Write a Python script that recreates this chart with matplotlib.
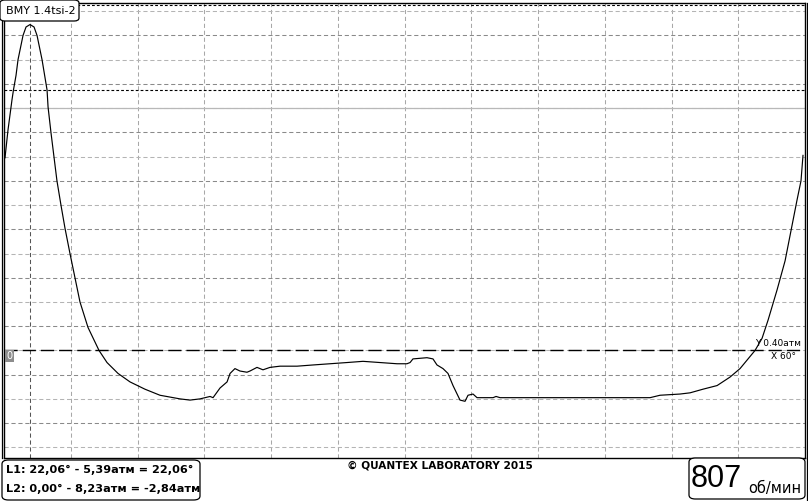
import matplotlib
matplotlib.use("Agg")
import matplotlib.pyplot as plt
from matplotlib.patches import FancyBboxPatch, Rectangle
from matplotlib.lines import Line2D

plt.rcParams['lines.scale_dashes'] = False
plt.rcParams['font.family'] = ['DejaVu Sans']

W, H = 808, 501

# pressure trace: crank angle (deg) vs pressure (atm)
angle = [0.9, 3.6, 7.2, 8.5, 10.8, 12.6, 17.1, 19.8, 23.4, 27.0, 29.7, 34.2,
         38.7, 39.6, 42.2, 44.9, 47.6, 51.2, 54.8, 59.3, 63.8, 68.3, 75.5,
         85.4, 92.6, 102.5, 113.3, 126.7, 140.2, 158.2, 167.2, 176.2, 185.2,
         187.9, 194.2, 200.5, 203.2, 207.6, 212.1, 218.4, 221.1, 227.4, 232.8,
         239.1, 248.1, 263.4, 277.8, 293.0, 308.3, 322.7, 338.0, 353.3, 362.2,
         365.0, 367.6, 380.2, 385.6, 389.2, 394.6, 399.1, 403.6, 409.9, 414.4,
         417.1, 421.6, 425.2, 439.6, 442.3, 445.9, 580.7, 589.7, 607.7, 616.7,
         628.3, 641.0, 652.6, 661.6, 668.8, 675.1, 681.4, 686.8, 694.9, 702.1,
         712.8, 716.4, 718.2]
pressure = [1.99, 2.22, 2.47, 2.55, 2.67, 2.80, 3.00, 3.07, 3.09, 3.07, 3.00,
            2.80, 2.55, 2.41, 2.20, 2.00, 1.80, 1.60, 1.41, 1.20, 1.00, 0.80,
            0.59, 0.40, 0.30, 0.21, 0.14, 0.08, 0.03, 0.00, -0.01, 0.00, 0.02,
            0.01, 0.09, 0.14, 0.21, 0.25, 0.23, 0.22, 0.23, 0.26, 0.24, 0.26,
            0.27, 0.27, 0.28, 0.29, 0.30, 0.31, 0.30, 0.29, 0.29, 0.30, 0.33,
            0.34, 0.33, 0.28, 0.25, 0.21, 0.11, -0.01, -0.02, 0.03, 0.04, 0.01,
            0.01, 0.02, 0.01, 0.01, 0.03, 0.04, 0.05, 0.08, 0.11, 0.18, 0.25,
            0.33, 0.40, 0.50, 0.65, 0.90, 1.14, 1.64, 1.80, 2.01]

x_grid = [60 * k for k in range(1, 12)]
y_grid = [round(-0.4 + 0.2 * k, 2) for k in range(19)]
zero_line = 2.4
cursor_y = 0.40
cursor_lines = [2.55, 3.25]
cursor_x = 23.4

title = "BMY 1.4tsi-2"
l1_text = "L1: 22,06° - 5,39атм = 22,06°"
l2_text = "L2: 0,00° - 8,23атм = -2,84атм"
footer = "© QUANTEX LABORATORY 2015"
rpm = "807"
rpm_unit = "об/мин"


def fx(px):
    return px / W


def fy(py):
    return 1 - py / H


fig = plt.figure(figsize=(W / 100, H / 100), dpi=100)
ax = fig.add_axes([fx(4), fy(458), (805 - 4) / W, (458 - 3) / H])
ax.set_xlim(0, 720)
ax.set_ylim(-0.488, 3.268)
ax.set_xticks([])
ax.set_yticks([])
for s in ax.spines.values():
    s.set_color('black')
    s.set_linewidth(1.0)

for gx in x_grid:
    ax.axvline(gx, color='#a8a8a8', lw=0.75, dashes=(3, 2))
for i, gy in enumerate(y_grid):
    col = '#8a8a8a' if i % 2 else '#b4b4b4'
    ax.axhline(gy, color=col, lw=0.75, dashes=(3, 2))

ax.axhline(zero_line, color='#b8b8b8', lw=0.9)
for cy in cursor_lines:
    ax.axhline(cy, color='black', lw=0.8, dashes=(2, 1.5))
ax.axvline(cursor_x, color='#555555', lw=0.75, dashes=(3, 2))
ax.axhline(cursor_y, color='black', lw=1.0, dashes=(9.5, 3.6))

ax.plot(angle, pressure, color='black', lw=0.85)

ax.text(0.938, 0.241, "Y 0.40атм", transform=ax.transAxes, fontsize=6.5,
        ha='left', va='bottom')
ax.text(0.957, 0.234, "X 60°", transform=ax.transAxes, fontsize=6.5,
        ha='left', va='top')

# zero marker
fig.add_artist(Rectangle((fx(5), fy(362)), 9 / W, 12 / H, transform=fig.transFigure,
                         facecolor='#8c8c8c', edgecolor='none'))
fig.text(fx(9.5), fy(356), "0", color='white', fontsize=7, ha='center', va='center')

# double borders
for xp in (2, 807):
    fig.add_artist(Line2D([fx(xp), fx(xp)], [fy(3), fy(458)], color='black', lw=0.9,
                          transform=fig.transFigure))
fig.add_artist(Line2D([fx(807), fx(807)], [fy(458), fy(500)], color='black', lw=0.9,
                      transform=fig.transFigure))

# title box
fig.add_artist(FancyBboxPatch((fx(0), fy(21)), 79 / W, 21 / H,
                              boxstyle="round,pad=0,rounding_size=0.006",
                              transform=fig.transFigure, facecolor='white',
                              edgecolor='black', lw=0.9, zorder=5))
fig.text(fx(6), fy(11), title, fontsize=8, ha='left', va='center', zorder=6)

# cursor readout box
fig.add_artist(FancyBboxPatch((fx(2), fy(500)), 198 / W, 40 / H,
                              boxstyle="round,pad=0,rounding_size=0.008",
                              transform=fig.transFigure, facecolor='white',
                              edgecolor='black', lw=0.9))
fig.text(fx(6), fy(470), l1_text, fontsize=8.1, fontweight='bold', ha='left', va='center')
fig.text(fx(6), fy(489), l2_text, fontsize=8.1, fontweight='bold', ha='left', va='center')

fig.text(fx(440), fy(466), footer, fontsize=7.6, fontweight='bold', ha='center',
         va='center')

# rpm box
fig.add_artist(FancyBboxPatch((fx(689), fy(499)), 116 / W, 41 / H,
                              boxstyle="round,pad=0,rounding_size=0.008",
                              transform=fig.transFigure, facecolor='white',
                              edgecolor='black', lw=0.9))
fig.text(fx(691), fy(479), rpm, fontsize=22, family='Liberation Sans',
         ha='left', va='center')
fig.text(fx(748), fy(488), rpm_unit, fontsize=10.5, ha='left', va='center')

fig.savefig("out.png", dpi=100)
